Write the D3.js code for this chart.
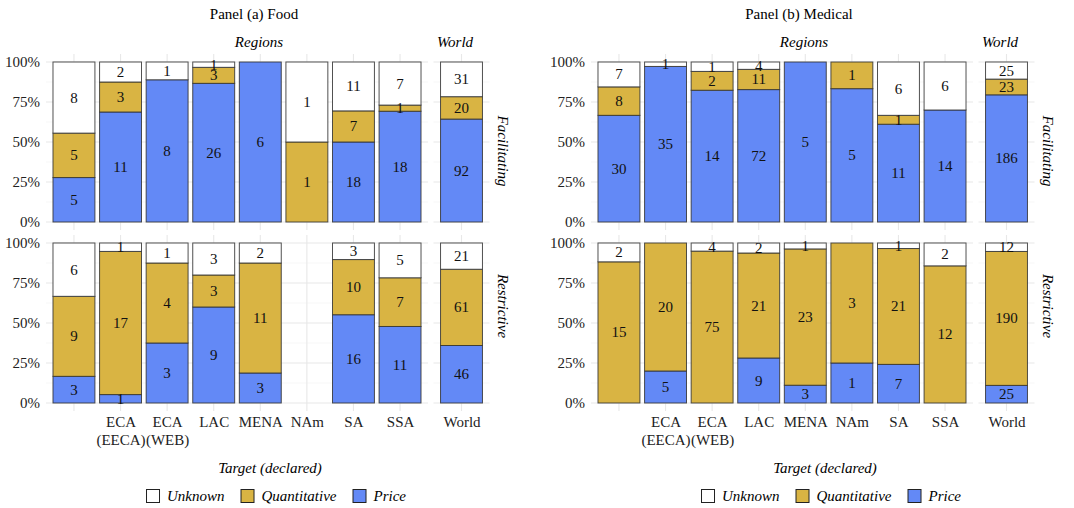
<!DOCTYPE html>
<html>
<head>
<meta charset="utf-8">
<script src="https://cdn.jsdelivr.net/npm/d3@7"></script>
<style>
  body { margin: 0; background: #fff; }
  svg text { font-family: "Liberation Serif", "Tinos", "Times New Roman", "DejaVu Serif", serif !important; }
</style>
</head>
<body>
<svg id="chart" width="1074" height="508" font-family="Liberation Serif, serif"></svg>
<script>
// categories
var regions = ["", "ECA (EECA)", "ECA (WEB)", "LAC", "MENA", "NAm", "SA", "SSA"];
var regionTicks = [[""], ["ECA", "(EECA)"], ["ECA", "(WEB)"], ["LAC"], ["MENA"], ["NAm"], ["SA"], ["SSA"]];
var world = ["World"];
var keys = ["Price", "Quantitative", "Unknown"];          // stacking order, bottom up
var legendOrder = ["Unknown", "Quantitative", "Price"];
var yTicks = [0, 0.25, 0.5, 0.75, 1];
var yTickLabels = ["0%", "25%", "50%", "75%", "100%"];
var panelTitles = ["Panel (a) Food", "Panel (b) Medical"];
var rowLabels = ["Facilitating", "Restrictive"];

// counts: 8 regions then World
var foodFacPrice   = [5, 11, 8, 26, 6, 0, 18, 18, 92];
var foodFacQuant   = [5, 3, 0, 3, 0, 1, 7, 1, 20];
var foodFacUnknown = [8, 2, 1, 1, 0, 1, 11, 7, 31];
var foodResPrice   = [3, 1, 3, 9, 3, 0, 16, 11, 46];
var foodResQuant   = [9, 17, 4, 3, 11, 0, 10, 7, 61];
var foodResUnknown = [6, 1, 1, 3, 2, 0, 3, 5, 21];

var medFacPrice    = [30, 35, 14, 72, 5, 5, 11, 14, 186];
var medFacQuant    = [8, 0, 2, 11, 0, 1, 1, 0, 23];
var medFacUnknown  = [7, 1, 1, 4, 0, 0, 6, 6, 25];
var medResPrice    = [0, 5, 0, 9, 3, 1, 7, 0, 25];
var medResQuant    = [15, 20, 75, 21, 23, 3, 21, 12, 190];
var medResUnknown  = [2, 0, 4, 2, 1, 0, 1, 2, 12];

var colors = { Unknown: "#ffffff", Quantitative: "#d9b443", Price: "#6389f6" };

var svg = d3.select("#chart");

var panels = [
  { title: panelTitles[0], ox: 0, bx: 0,
    rows: [[foodFacPrice, foodFacQuant, foodFacUnknown], [foodResPrice, foodResQuant, foodResUnknown]] },
  { title: panelTitles[1], ox: 545, bx: 555,
    rows: [[medFacPrice, medFacQuant, medFacUnknown], [medResPrice, medResQuant, medResUnknown]] }
];

var rowRanges = [[230, 54], [411, 235]];
var rowLabelY = [151, 306];

function drawPanel(p) {
  var g = svg.append("g");
  var ox = p.ox;

  var xR = d3.scalePoint().domain(regions).range([ox + 46, ox + 428]).padding(0.6);
  var xW = d3.scalePoint().domain(world).range([ox + 433.5, ox + 489.5]).padding(0.6);
  var bw = xR.step() * 0.9;
  var facets = [
    { scale: xR, cats: regions, x0: ox + 46, x1: ox + 428 },
    { scale: xW, cats: world, x0: ox + 433.5, x1: ox + 489.5 }
  ];

  g.append("text").attr("x", ox + 254).attr("y", 19)
    .attr("text-anchor", "middle").attr("font-size", 15).text(p.title);
  g.append("text").attr("x", ox + 259).attr("y", 47).attr("font-style", "italic")
    .attr("text-anchor", "middle").attr("font-size", 15).text("Regions");
  g.append("text").attr("x", ox + 455).attr("y", 47).attr("font-style", "italic")
    .attr("text-anchor", "middle").attr("font-size", 15).text("World");

  p.rows.forEach(function(series, r) {
    var y = d3.scaleLinear().domain([-0.05, 1.05]).range(rowRanges[r]);
    var allCats = regions.concat(world);
    var records = allCats.map(function(c, i) {
      return { cat: c, world: i == regions.length, Price: series[0][i], Quantitative: series[1][i], Unknown: series[2][i] };
    });
    var stacked = d3.stack().keys(keys).offset(d3.stackOffsetExpand)(records);

    // grid
    facets.forEach(function(f) {
      var grid = g.append("g");
      grid.selectAll(".minor").data([0.125, 0.375, 0.625, 0.875]).enter().append("line")
        .attr("x1", f.x0).attr("x2", f.x1)
        .attr("y1", function(d) { return y(d); }).attr("y2", function(d) { return y(d); })
        .attr("stroke", "#f1f1f1").attr("stroke-width", 0.6);
      grid.selectAll(".major").data(yTicks).enter().append("line")
        .attr("x1", f.x0).attr("x2", f.x1)
        .attr("y1", function(d) { return y(d); }).attr("y2", function(d) { return y(d); })
        .attr("stroke", "#e8e8e8").attr("stroke-width", 1.1);
      grid.selectAll(".vert").data(f.cats).enter().append("line")
        .attr("x1", function(d) { return f.scale(d); }).attr("x2", function(d) { return f.scale(d); })
        .attr("y1", rowRanges[r][0]).attr("y2", rowRanges[r][1])
        .attr("stroke", "#e8e8e8").attr("stroke-width", 1.1);
    });

    var xOf = function(d) { return d.data.world ? xW(d.data.cat) : xR(d.data.cat); };

    stacked.forEach(function(s) {
      var segs = s.filter(function(d) { return d.data[s.key] > 0; });
      g.append("g").selectAll("rect").data(segs).enter().append("rect")
        .attr("x", function(d) { return xOf(d) - bw / 2; })
        .attr("y", function(d) { return y(d[1]); })
        .attr("width", bw)
        .attr("height", function(d) { return y(d[0]) - y(d[1]); })
        .attr("fill", colors[s.key])
        .attr("stroke", "#333").attr("stroke-opacity", 0.85).attr("stroke-width", 1);
    });
    stacked.forEach(function(s) {
      var segs = s.filter(function(d) { return d.data[s.key] > 0; });
      g.append("g").selectAll("text").data(segs).enter().append("text")
        .attr("x", function(d) { return xOf(d); })
        .attr("y", function(d) { return y((d[0] + d[1]) / 2); })
        .attr("text-anchor", "middle").attr("dominant-baseline", "central")
        .attr("font-size", 15).attr("fill", "#111")
        .text(function(d) { return d.data[s.key]; });
    });

    var yAxis = d3.axisLeft(y).tickValues(yTicks).tickSize(0).tickPadding(6)
      .tickFormat(function(d, i) { return yTickLabels[i]; });
    var ya = g.append("g").attr("transform", "translate(" + (ox + 46) + ",0)").call(yAxis);
    ya.attr("font-family", null);
    ya.select(".domain").remove();
    ya.selectAll("text").attr("font-size", 15).attr("fill", "#222");

    g.append("text")
      .attr("transform", "translate(" + (ox + 498) + "," + rowLabelY[r] + ") rotate(90)")
      .attr("text-anchor", "middle").attr("font-style", "italic").attr("font-size", 15)
      .text(rowLabels[r]);
  });

  // x axes
  var xaR = g.append("g").attr("transform", "translate(0,411)")
    .call(d3.axisBottom(xR).tickSize(0));
  var xaW = g.append("g").attr("transform", "translate(0,411)")
    .call(d3.axisBottom(xW).tickSize(0));
  [xaR, xaW].forEach(function(a) {
    a.attr("font-family", null);
    a.select(".domain").remove();
    a.selectAll("text").attr("font-size", 15).attr("fill", "#222");
  });
  xaR.selectAll("text").each(function(d, i) {
    var t = d3.select(this).text(null).attr("y", 15.5).attr("dy", null);
    regionTicks[i].forEach(function(line, j) {
      t.append("tspan").attr("x", 0).attr("dy", j == 0 ? 0 : 18).text(line);
    });
  });
  xaW.selectAll("text").attr("y", 15.5).attr("dy", null);

  var bx = p.bx;
  g.append("text").attr("x", bx + 270).attr("y", 473).attr("text-anchor", "middle")
    .attr("font-style", "italic").attr("font-size", 15).text("Target (declared)");

  // legend
  var leg = g.append("g");
  var pos = 0;
  legendOrder.forEach(function(k, i) {
    var item = leg.append("g").attr("transform", "translate(" + pos + ",0)");
    item.append("rect").attr("x", 0.5).attr("y", 489.5).attr("width", 13).attr("height", 13)
      .attr("fill", colors[k]).attr("stroke", "#222").attr("stroke-width", 1);
    var t = item.append("text").attr("x", 21).attr("y", 501).attr("font-style", "italic")
      .attr("font-size", 15).text(k);
    pos += 21 + t.node().getComputedTextLength() + 16;
  });
  var total = pos - 16;
  leg.attr("transform", "translate(" + (bx + 276 - total / 2) + ",0)");
}

panels.forEach(drawPanel);
</script>
</body>
</html>
